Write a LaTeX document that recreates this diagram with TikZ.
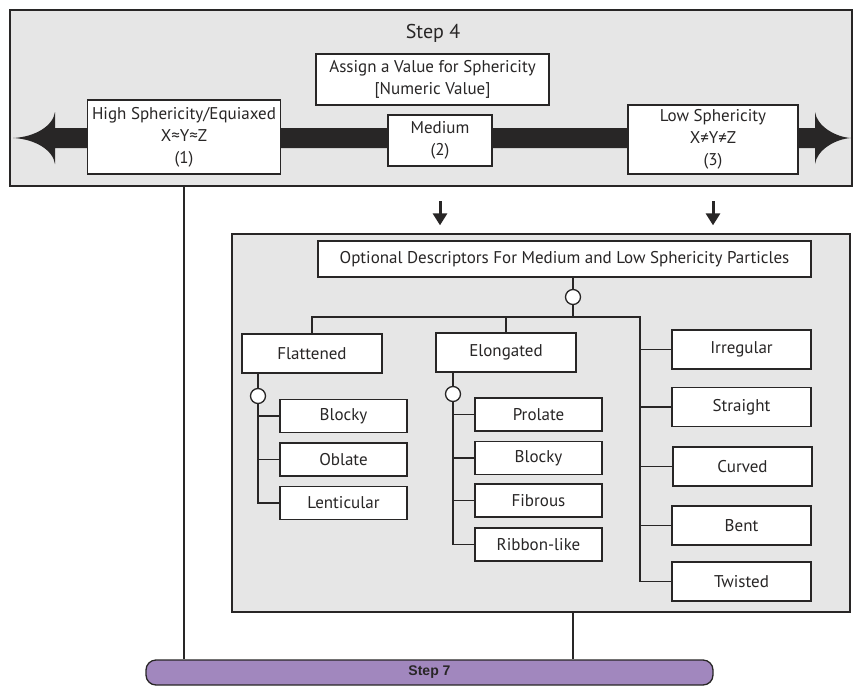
\documentclass[tikz,border=0pt]{standalone}
\usepackage{fontspec}
\setmainfont{PT Sans}
\newfontfamily\barfont{Liberation Sans}
\usetikzlibrary{arrows.meta,fit}
\definecolor{panelgray}{RGB}{230,230,230}
\definecolor{ink}{RGB}{40,38,38}
\definecolor{steppurple}{RGB}{161,135,190}
\begin{document}
\begin{tikzpicture}[x=1pt,y=-1pt,
    panel/.style={draw=ink,fill=panelgray,line width=1.3pt,inner sep=0pt},
    box/.style={draw=ink,fill=white,line width=1.3pt,inner sep=0pt,align=center,
      text=ink,font=\fontsize{17}{22}\selectfont},
    leaf/.style={box,minimum width=127,minimum height=33},
    formbox/.style={box,minimum width=139,minimum height=39},
    knot/.style={circle,draw=ink,fill=white,line width=1.3pt,minimum size=15pt,inner sep=0pt},
    link/.style={draw=ink,line width=1.5pt},
    drop/.style={draw=ink,line width=3pt,-{Triangle[length=12pt,width=14pt]}}]
  \useasboundingbox (0,0) rectangle (854,686);
  % step 4 panel with the sphericity scale
  \node[panel,fit={(10,10)(852,186)}] (step4) {};
  \node[text=ink,font=\fontsize{20}{24}\selectfont] (title) at (433,33) {Step 4};
  \fill[ink] (13,138) .. controls (35,137) and (53,126) .. (55,112) -- (55,128)
    -- (815,128) -- (815,112) .. controls (817,126) and (835,137) .. (851,138)
    .. controls (835,139) and (817,150) .. (815,164) -- (815,148)
    -- (55,148) -- (55,164) .. controls (53,150) and (35,139) .. (13,138) -- cycle;
  \node[box,minimum width=233,minimum height=51] (assign) at (432.5,79.5) {Assign a Value for Sphericity\\{}[Numeric Value]};
  \node[box,minimum width=193,minimum height=74] (high) at (184,137) {High Sphericity/Equiaxed\\X≈Y≈Z\\(1)};
  \node[box,minimum width=104,minimum height=51] (medium) at (440,140.5) {Medium\\(2)};
  \node[box,minimum width=170,minimum height=69] (low) at (713,139.5) {Low Sphericity\\X≠Y≠Z\\(3)};
  % optional descriptors
  \node[panel,fit={(232,234)(850,612)}] (optional) {};
  \coordinate (drop1) at (440,201);
  \coordinate (drop2) at (713,201);
  \draw[drop,shorten >=8pt] (drop1) -- (drop1 |- optional.north);
  \draw[drop,shorten >=8pt] (drop2) -- (drop2 |- optional.north);
  \node[box,minimum width=493,minimum height=36] (desc) at (564.5,259) {Optional Descriptors For Medium and Low Sphericity Particles};
  \node[knot] (k0) at (573,297) {};
  \coordinate (bus) at (640,317);
  \node[box,minimum width=140,minimum height=39] (flat) at (312,353.5) {Flattened};
  \node[box,minimum width=140,minimum height=39] (elong) at (506,352.5) {Elongated};
  \node[knot] (k1) at (258,396) {};
  \node[knot] (k2) at (453,394) {};
  \node[leaf] (fblocky) at (343.5,416) {Blocky};
  \node[leaf] (oblate) at (343.5,459.5) {Oblate};
  \node[leaf] (lenticular) at (343.5,503) {Lenticular};
  \node[leaf] (prolate) at (538.5,414.5) {Prolate};
  \node[leaf] (eblocky) at (538.5,458) {Blocky};
  \node[leaf] (fibrous) at (538.5,500.5) {Fibrous};
  \node[leaf] (ribbon) at (538.5,544.5) {Ribbon-like};
  \node[formbox] (irregular) at (741.5,349.5) {Irregular};
  \node[formbox] (straight) at (741.5,407) {Straight};
  \node[formbox] (curved) at (742.5,466.5) {Curved};
  \node[formbox] (bent) at (741.5,525.5) {Bent};
  \node[formbox] (twisted) at (741.5,581.5) {Twisted};
  % step 7 bar
  \node[draw=ink,fill=steppurple,line width=1.3pt,rounded corners=10pt,minimum width=567,minimum height=25,
    text=ink,font=\barfont\bfseries\fontsize{14}{16}\selectfont] (step7) at (429.5,672.5) {Step 7};
  \draw[link] (step4.south -| high) -- (step7.north -| high);
  \draw[link] (optional.south -| k0) -- (step7.north -| k0);
  \draw[link] (desc.south -| k0) -- (k0.north);
  \draw[link] (k0.south) -- (k0 |- bus);
  \draw[link] (flat.north) |- (bus) |- (twisted.west);
  \draw[link] (elong.north) -- (elong.north |- bus);
  \foreach \n in {irregular,straight,curved,bent}
    \draw[link] (bus |- \n.west) -- (\n.west);
  \draw[link] (flat.south -| k1) -- (k1.north);
  \draw[link] (k1.south) |- (lenticular.west);
  \foreach \n in {fblocky,oblate}
    \draw[link] (k1 |- \n.west) -- (\n.west);
  \draw[link] (elong.south -| k2) -- (k2.north);
  \draw[link] (k2.south) |- (ribbon.west);
  \foreach \n in {prolate,eblocky,fibrous}
    \draw[link] (k2 |- \n.west) -- (\n.west);
\end{tikzpicture}
\end{document}
